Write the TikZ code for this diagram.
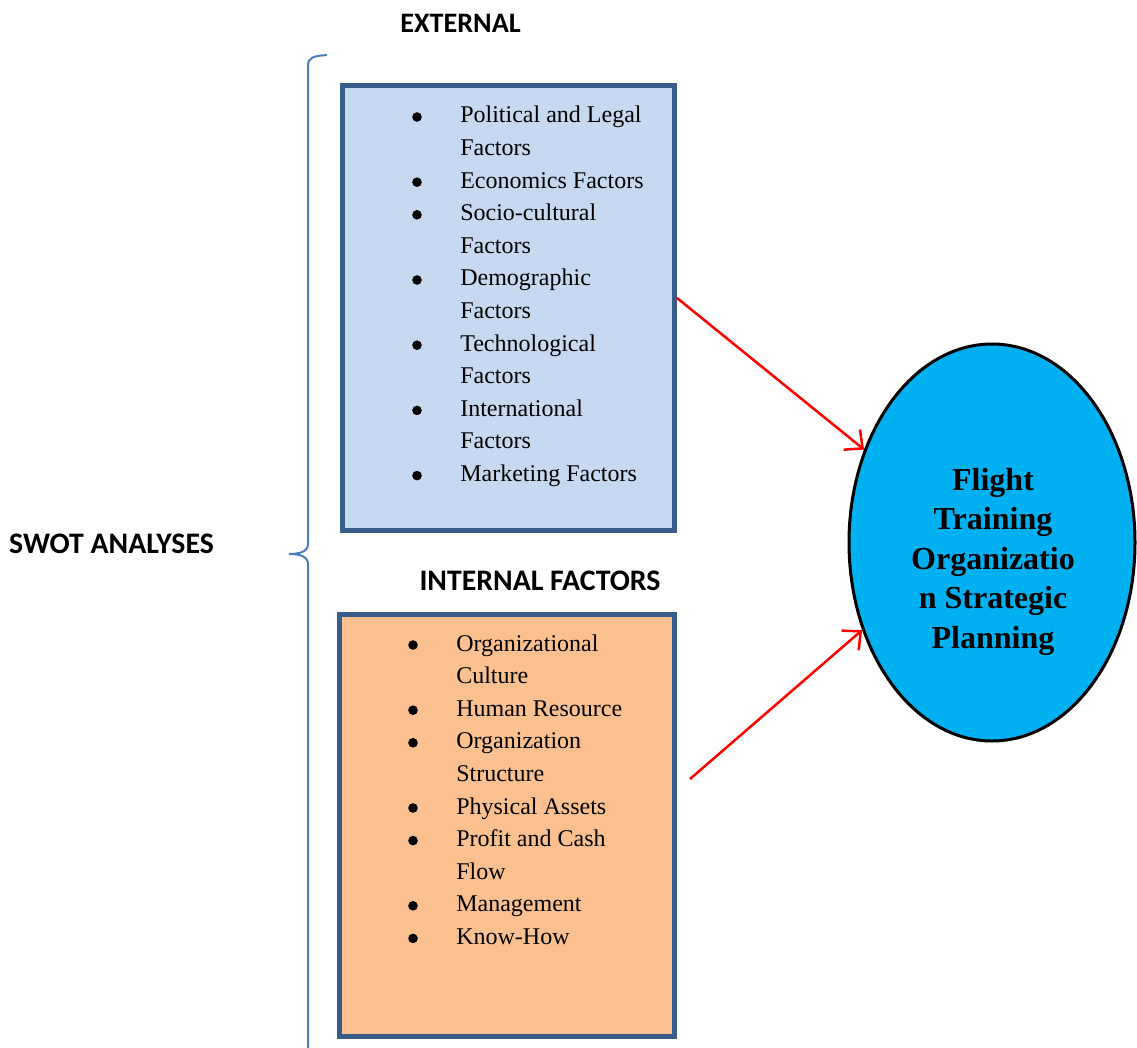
\documentclass[tikz,border=0pt]{standalone}
\usepackage{fontspec}
\setmainfont{Liberation Serif}
\newfontfamily\headfont{Carlito}
\usetikzlibrary{shapes.geometric, arrows.meta, positioning}
\tikzset{>={Straight Barb[length=14pt,width=26pt]}}
\definecolor{boxline}{HTML}{385D8A}
\definecolor{extfill}{HTML}{C6D9F1}
\definecolor{intfill}{HTML}{FAC090}
\definecolor{bracecol}{HTML}{4A7EBB}
\definecolor{planfill}{HTML}{00B0F0}
\newcommand{\factdot}{\tikz[baseline=-6pt]\fill[black] (0,0) circle (4.8pt);}

\begin{document}
\begin{tikzpicture}[x=1pt, y=-1pt,
		factorbox/.style={draw=boxline, line width=4.5pt, inner sep=0pt},
		factorlist/.style={anchor=base west, inner sep=0pt, font=\fontsize{24}{32.6}\selectfont},
		heading/.style={anchor=base, inner sep=0pt, font=\headfont\bfseries\fontsize{29.8}{34}\selectfont},
		link/.style={->, red, line width=2.5pt}]
			\useasboundingbox (0,0) rectangle (1137,1048);
			\node[heading, font=\headfont\bfseries\fontsize{28.2}{34}\selectfont] (exthead) at (460.5,33) {EXTERNAL};
			\node[heading] (inthead) at (540,590) {INTERNAL FACTORS};
			\node[heading] (swot) at (111.5,553) {SWOT ANALYSES};
			\draw [bracecol, line width=2pt] (327,55) .. controls (314,56) and (308,57) .. (308,66) -- (308,544) .. controls (308,551) and (301,554) .. (289,554) .. controls (301,554) and (308,557) .. (308,564) -- (308,1050);
			\node[factorbox, fill=extfill, minimum width=332pt, minimum height=445pt] (ext) at (508.5,308) {};
			\node[factorbox, fill=intfill, minimum width=335pt, minimum height=422pt] (int) at (507,825.5) {};
			\node[factorlist] (extlist) at (412,123) {\begin{tabular}[t]{@{}c@{\hspace{38.5pt}}l@{}}
				\factdot & Political and Legal\\
				 & Factors\\
				\factdot & Economics Factors\\
				\factdot & Socio-cultural\\
				 & Factors\\
				\factdot & Demographic\\
				 & Factors\\
				\factdot & Technological\\
				 & Factors\\
				\factdot & International\\
				 & Factors\\
				\factdot & Marketing Factors
			\end{tabular}};
			\node[factorlist] (intlist) at (408,651) {\begin{tabular}[t]{@{}c@{\hspace{38.5pt}}l@{}}
				\factdot & Organizational\\
				 & Culture\\
				\factdot & Human Resource\\
				\factdot & Organization\\
				 & Structure\\
				\factdot & Physical Assets\\
				\factdot & Profit and Cash\\
				 & Flow\\
				\factdot & Management\\
				\factdot & Know-How
			\end{tabular}};
			\node[ellipse, draw=black, line width=3pt, fill=planfill, minimum width=286pt, minimum height=397pt, inner sep=0pt] (plan) at (992,542.5) {};
			\node[anchor=base, inner sep=0pt, font=\bfseries\fontsize{32}{39.5}\selectfont] (plantext) at (993,490) {\begin{tabular}[t]{@{}c@{}}
				Flight\\
				Training\\
				Organizatio\\
				n Strategic\\
				Planning
			\end{tabular}};
			\coordinate (extout) at (677,298);
			\coordinate (intout) at (690,779);
			\draw [link] (extout) -- (plan.144);
			\draw [link] (intout) -- (plan.214);
		\end{tikzpicture}
\end{document}
